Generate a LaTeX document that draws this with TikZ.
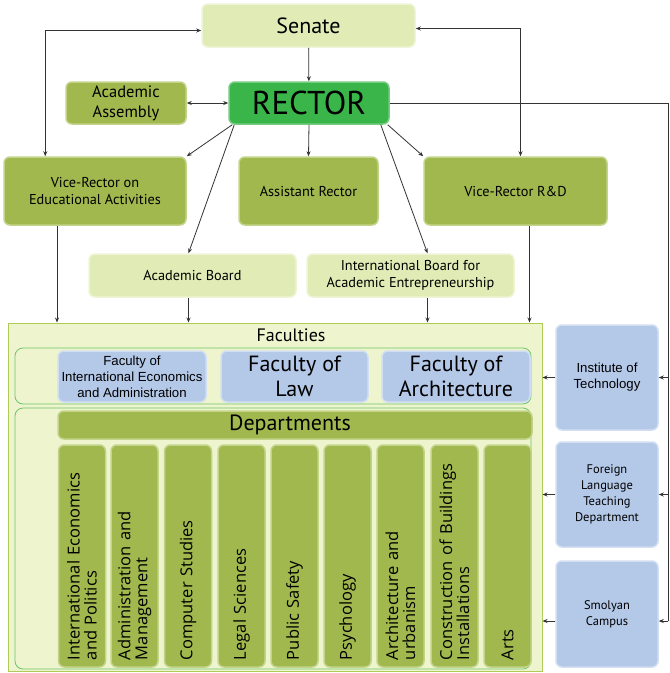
\documentclass[tikz,border=0pt]{standalone}
\usepackage{fontspec}
\setmainfont{PT Sans}
\newfontfamily\arialfont{Liberation Sans}
\newfontfamily\colfont{Open Sans}
\usetikzlibrary{positioning, arrows.meta, calc}

\definecolor{senatefill}{HTML}{E1EBB5}
\definecolor{senateedge}{HTML}{EEF4D6}
\definecolor{rectorfill}{HTML}{3AB54A}
\definecolor{olivefill}{HTML}{A0B84E}
\definecolor{oliveedge}{HTML}{C3D48A}
\definecolor{paleblue}{HTML}{B4C8E8}
\definecolor{facfill}{HTML}{EEF4CD}
\definecolor{facedge}{HTML}{AECB5A}
\definecolor{frameedge}{HTML}{6CC46C}
\definecolor{wirecol}{HTML}{333333}

\tikzset{
    box/.style={rounded corners=6pt, line width=1.5pt, align=center, inner sep=2pt},
    lightbox/.style={box, fill=senatefill, draw=senateedge},
    olivebox/.style={box, fill=olivefill, draw=oliveedge},
    bluebox/.style={box, fill=paleblue, draw=paleblue!60!white},
    frame/.style={rounded corners=8pt, draw=frameedge, line width=0.8pt},
    deptcol/.style={olivebox, rotate=90, minimum width=222pt, minimum height=47pt,
        text width=208pt, align=left, font=\colfont\fontsize{16.5}{17}\selectfont},
    wire/.style={draw=wirecol, line width=0.8pt},
}

\begin{document}
\begin{tikzpicture}[%
    x=1pt, y=-1pt,      % one unit = one pixel, y runs down
    >={Stealth[length=5pt,width=4pt]}, % small filled tips
    font=\fontsize{14.3}{16.5}\selectfont
]
    \fill[white] (0,0) rectangle (670,673);
    \useasboundingbox (0,0) rectangle (670,673);

    % ==========================================
    % 1. Top management
    % ==========================================
    \node[lightbox, minimum width=213pt, minimum height=43pt,
          font=\fontsize{22}{26}\selectfont] (senate) at (308.5,25.5) {Senate};
    \node[box, fill=rectorfill, draw=rectorfill!70!white, minimum width=160pt, minimum height=42pt,
          font=\fontsize{33}{36}\selectfont] (rector) at (309,103) {RECTOR};
    \node[olivebox, minimum width=120pt, minimum height=42pt,
          font=\fontsize{16.5}{20}\selectfont] (assembly) at (126,103) {Academic\\Assembly};

    \node[olivebox, minimum width=182pt, minimum height=68pt] (vred) at (95,191)
        {Vice-Rector on\\Educational Activities};
    \node[olivebox, minimum width=139pt, minimum height=68pt] (assist) at (308.5,191)
        {Assistant Rector};
    \node[olivebox, minimum width=183pt, minimum height=68pt] (vrrd) at (515.5,191)
        {Vice-Rector R\&D};

    \node[lightbox, minimum width=207pt, minimum height=43pt] (board) at (192.5,275.5)
        {Academic Board};
    \node[lightbox, minimum width=207pt, minimum height=43pt] (intboard) at (410.5,275.5)
        {International Board for\\Academic Entrepreneurship};

    % ==========================================
    % 2. Faculties and departments
    % ==========================================
    \node[fill=facfill, draw=facedge, line width=1pt, minimum width=534pt,
          minimum height=348pt] (fac) at (275,497) {};
    \node[font=\fontsize{18}{21}\selectfont] (faclabel) at (291,335) {Faculties};

    \node[frame, fill=facfill, minimum width=516pt, minimum height=56pt] (facrow) at (273,376) {};
    \node[bluebox, minimum width=148pt, minimum height=51pt,
          font=\arialfont\fontsize{13.2}{16}\selectfont] (fiea) at (132,376.5)
        {Faculty of\\International Economics\\and Administration};
    \node[bluebox, minimum width=147pt, minimum height=51pt,
          font=\fontsize{22}{25}\selectfont] (flaw) at (294.5,376.5) {Faculty of\\Law};
    \node[bluebox, minimum width=148pt, minimum height=51pt,
          font=\fontsize{22}{25}\selectfont] (farch) at (456,376.5) {Faculty of\\Architecture};

    \node[frame, fill=facfill, minimum width=516pt, minimum height=261pt] (deptframe) at (273,538.5) {};
    \node[olivebox, minimum width=474pt, minimum height=28pt,
          font=\fontsize{22}{25}\selectfont] (depts) at (295,425) {\hspace*{-10pt}Departments};

    \node[deptcol] (d1) at (82,556)    {International Economics\\and Politics};
    \node[deptcol] (d2) at (134.5,556) {Administration and\\Management};
    \node[deptcol] (d3) at (188,556)   {Computer Studies};
    \node[deptcol] (d4) at (241.5,556) {Legal Sciences};
    \node[deptcol] (d5) at (294.5,556) {Public Safety};
    \node[deptcol] (d6) at (347.5,556) {Psychology};
    \node[deptcol] (d7) at (400.5,556) {Architecture and\\urbanism};
    \node[deptcol] (d8) at (454.5,556) {Construction of Buildings\\Installations};
    \node[deptcol] (d9) at (507.5,556) {Arts};

    % ==========================================
    % 3. Units on the right
    % ==========================================
    \node[bluebox, minimum width=102pt, minimum height=105pt,
          font=\arialfont\fontsize{13.2}{16}\selectfont] (inst) at (607,377.5)
        {Institute of\\Technology};
    \node[bluebox, minimum width=102pt, minimum height=105pt,
          font=\fontsize{12.5}{16}\selectfont] (flang) at (607,494.5)
        {Foreign\\Language\\Teaching\\Department};
    \node[bluebox, minimum width=102pt, minimum height=106pt,
          font=\fontsize{12.5}{16}\selectfont] (smolyan) at (607,614)
        {Smolyan\\Campus};

    % ==========================================
    % 4. Connectors
    % ==========================================
    \coordinate (bus) at (668,621);

    \draw[wire, ->] (senate) -- (rector);
    \draw[wire, <->] (assembly) -- (rector);
    \draw[wire, <->] ([yshift=-5pt]senate.west) -| ([xshift=42pt]vred.north west);
    \draw[wire, <->] ([yshift=-3pt]senate.east) -| ([xshift=5pt]vrrd.north);

    \draw[wire, ->] ([xshift=4pt]rector.south west) -- (vred.north east);
    \draw[wire, ->] ([xshift=6pt]rector.south west) -- ([xshift=-4pt]board.north);
    \draw[wire, ->] (rector.south) -- (assist.north);
    \draw[wire, ->] ([xshift=-9pt]rector.south east) -- ([xshift=17pt]intboard.north);
    \draw[wire, ->] ([xshift=-2pt]rector.south east) -- (vrrd.north west);

    \draw[wire, ->] ([xshift=-38pt]vred.south) -- ([xshift=-38pt]vred.south |- fac.north);
    \draw[wire, ->] ([xshift=-4pt]board.south) -- ([xshift=-4pt]board.south |- fac.north);
    \draw[wire, ->] ([xshift=17pt]intboard.south) -- ([xshift=17pt]intboard.south |- fac.north);
    \draw[wire, ->] ([xshift=14pt]vrrd.south) -- ([xshift=14pt]vrrd.south |- fac.north);

    \draw[wire] (rector.east) -| (bus);
    \draw[wire, ->] (bus |- inst.east) -- (inst.east);
    \draw[wire, ->] (bus |- flang.east) -- (flang.east);
    \draw[wire, ->] (bus) -- (bus -| smolyan.east);
    \draw[wire, ->] (inst.west) -- (inst.west -| fac.east);
    \draw[wire, ->] (flang.west) -- (flang.west -| fac.east);
    \draw[wire, ->] (bus -| smolyan.west) -- (bus -| fac.east);

\end{tikzpicture}
\end{document}
